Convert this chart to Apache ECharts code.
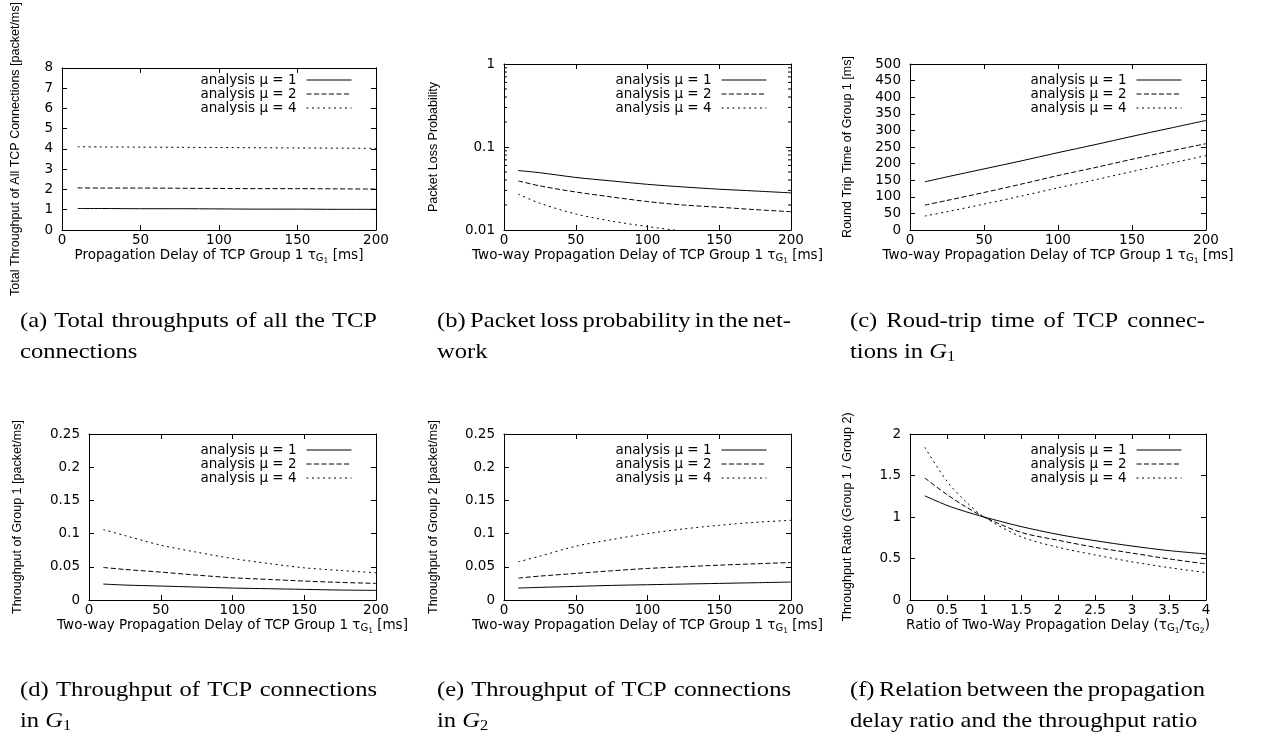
<!DOCTYPE html>
<html>
<head>
<meta charset="utf-8">
<script src="https://cdn.jsdelivr.net/npm/echarts@6/dist/echarts.min.js"></script>
<style>
html,body{margin:0;padding:0;background:#fff;}
#chart{width:1271px;height:738px;}
</style>
</head>
<body>
<div id="chart"></div>
<script>
// ---------------- data ----------------
const seriesNames = ['analysis μ = 1', 'analysis μ = 2', 'analysis μ = 4'];
const xDelay = [10, 25, 50, 75, 100, 125, 150, 175, 200];
const xRatio = [0.2, 0.5, 0.75, 1, 1.5, 2, 2.5, 3, 3.5, 4];

// (a) total throughput [packet/ms]
const totalMu1 = [1.06, 1.06, 1.05, 1.05, 1.04, 1.03, 1.03, 1.02, 1.02];
const totalMu2 = [2.08, 2.07, 2.07, 2.06, 2.05, 2.04, 2.04, 2.03, 2.02];
const totalMu4 = [4.11, 4.10, 4.09, 4.08, 4.07, 4.06, 4.05, 4.04, 4.03];
// (b) packet loss probability
const lossMu1 = [0.052, 0.049, 0.043, 0.039, 0.0355, 0.033, 0.031, 0.0295, 0.028];
const lossMu2 = [0.039, 0.034, 0.0287, 0.025, 0.022, 0.020, 0.0188, 0.0176, 0.0166];
const lossMu4 = [0.027, 0.021, 0.0156, 0.0128, 0.011, 0.0097, 0.0087, 0.0079, 0.0072];
const lossMinorTicks = [0.02, 0.03, 0.04, 0.05, 0.06, 0.07, 0.08, 0.09, 0.2, 0.3, 0.4, 0.5, 0.6, 0.7, 0.8, 0.9];
// (c) round trip time of group 1 [ms]
const rttMu1 = [145, 160, 184, 208, 233, 257, 282, 306, 330];
const rttMu2 = [75, 89, 113, 138, 164, 188, 213, 237, 260];
const rttMu4 = [42, 55, 78, 102, 127, 151, 176, 200, 224];
// (d) throughput of group 1
const thr1Mu1 = [0.024, 0.0225, 0.021, 0.0195, 0.018, 0.017, 0.016, 0.015, 0.0145];
const thr1Mu2 = [0.049, 0.046, 0.042, 0.0375, 0.0335, 0.031, 0.0285, 0.0265, 0.025];
const thr1Mu4 = [0.106, 0.097, 0.0826, 0.072, 0.0625, 0.055, 0.0485, 0.0445, 0.041];
// (e) throughput of group 2
const thr2Mu1 = [0.018, 0.019, 0.0205, 0.022, 0.023, 0.024, 0.025, 0.026, 0.027];
const thr2Mu2 = [0.033, 0.036, 0.040, 0.044, 0.0475, 0.050, 0.0525, 0.0545, 0.0565];
const thr2Mu4 = [0.0575, 0.066, 0.081, 0.091, 0.100, 0.107, 0.1125, 0.117, 0.120];
// (f) throughput ratio
const ratioMu1 = [1.255, 1.14, 1.065, 1.0, 0.885, 0.79, 0.715, 0.65, 0.595, 0.555];
const ratioMu2 = [1.47, 1.27, 1.125, 1.0, 0.815, 0.72, 0.635, 0.565, 0.495, 0.435];
const ratioMu4 = [1.84, 1.43, 1.19, 1.0, 0.763, 0.635, 0.543, 0.46, 0.39, 0.33];

const captionLine1 = [
  '(a) Total throughputs of all the TCP',
  '(b) Packet loss probability in the net-',
  '(c) Roud-trip time of TCP connec-',
  '(d) Throughput of TCP connections',
  '(e) Throughput of TCP connections',
  '(f) Relation between the propagation'
];
const captionLine2 = [
  'connections',
  'work',
  'tions in {i|G}{s|1}',
  'in {i|G}{s|1}',
  'in {i|G}{s|2}',
  'delay ratio and the throughput ratio'
];

const tauG1 = '{t|τ}{g|G}{n|1}';
const tauG2 = '{t|τ}{g|G}{n|2}';
const xNames = [
  'Propagation Delay of TCP Group 1 ' + tauG1 + ' [ms]',
  'Two-way Propagation Delay of TCP Group 1 ' + tauG1 + ' [ms]',
  'Two-way Propagation Delay of TCP Group 1 ' + tauG1 + ' [ms]',
  'Two-way Propagation Delay of TCP Group 1 ' + tauG1 + ' [ms]',
  'Two-way Propagation Delay of TCP Group 1 ' + tauG1 + ' [ms]',
  'Ratio of Two-Way Propagation Delay (' + tauG1 + '/' + tauG2 + ')'
];
const yNames = [
  'Total Throughput of All TCP Connections [packet/ms]',
  'Packet Loss Probability',
  'Round Trip Time of Group 1 [ms]',
  'Throughput of Group 1 [packet/ms]',
  'Throughput of Group 2 [packet/ms]',
  'Throughput Ratio (Group 1 / Group 2)'
];

const panelData = [
  {x: xDelay, ys: [totalMu1, totalMu2, totalMu4]},
  {x: xDelay, ys: [lossMu1, lossMu2, lossMu4]},
  {x: xDelay, ys: [rttMu1, rttMu2, rttMu4]},
  {x: xDelay, ys: [thr1Mu1, thr1Mu2, thr1Mu4]},
  {x: xDelay, ys: [thr2Mu1, thr2Mu2, thr2Mu4]},
  {x: xRatio, ys: [ratioMu1, ratioMu2, ratioMu4]}
];

// ---------------- layout / style ----------------
const W = 1271;
const boxes = [
  {left: 62, top: 64, width: 314, height: 166},
  {left: 504, top: 64, width: 287, height: 166},
  {left: 910, top: 64, width: 296, height: 166},
  {left: 89, top: 434, width: 287, height: 166},
  {left: 504, top: 434, width: 287, height: 166},
  {left: 910, top: 434, width: 296, height: 166}
];
const xScales = [
  {min: 0, max: 200, interval: 50}, {min: 0, max: 200, interval: 50}, {min: 0, max: 200, interval: 50},
  {min: 0, max: 200, interval: 50}, {min: 0, max: 200, interval: 50}, {min: 0, max: 4, interval: 0.5}
];
const yScales = [
  {type: 'value', min: 0, max: 8, interval: 1},
  {type: 'log', min: 0.01, max: 1, logBase: 10},
  {type: 'value', min: 0, max: 500, interval: 50},
  {type: 'value', min: 0, max: 0.25, interval: 0.05},
  {type: 'value', min: 0, max: 0.25, interval: 0.05},
  {type: 'value', min: 0, max: 2, interval: 0.5}
];
const yNameGaps = [40, 64, 56, 65, 64, 56];

const sansH = 'DejaVu Sans';
const sansV = 'Liberation Sans';
const fsH = 13.5;
const dashTypes = ['solid', [5, 2.5], [2, 3.5]];

const subRich = {
  t: {fontFamily: sansH, fontSize: fsH, color: '#000'},
  g: {fontFamily: sansH, fontSize: 10, color: '#000', padding: [7, 0, 0, 0]},
  n: {fontFamily: sansH, fontSize: 7.5, color: '#000', padding: [12, 0, 0, 0]}
};

const axisLine = {show: true, onZero: false, lineStyle: {color: '#000', width: 1}};
const axisTick = {show: true, inside: true, length: 5, lineStyle: {color: '#000', width: 1}};

const grid = [], xAxis = [], yAxis = [], series = [], legend = [];
boxes.forEach((b, p) => {
  grid.push({left: b.left, top: b.top, width: b.width, height: b.height, show: false, containLabel: false});
  const xs = xScales[p], ys = yScales[p];
  xAxis.push({
    type: 'value', gridIndex: p, position: 'bottom', min: xs.min, max: xs.max, interval: xs.interval,
    axisLine, axisTick, splitLine: {show: false},
    axisLabel: {color: '#000', fontFamily: sansH, fontSize: fsH, margin: 3},
    name: xNames[p], nameLocation: 'middle', nameGap: 15,
    nameTextStyle: {color: '#000', fontFamily: sansH, fontSize: fsH, rich: subRich}
  });
  xAxis.push({
    type: 'value', gridIndex: p, position: 'top', min: xs.min, max: xs.max, interval: xs.interval,
    axisLine, axisTick, splitLine: {show: false}, axisLabel: {show: false}
  });
  const yBase = {type: ys.type, gridIndex: p, min: ys.min, max: ys.max};
  if (ys.interval !== undefined) yBase.interval = ys.interval;
  if (ys.logBase !== undefined) yBase.logBase = ys.logBase;
  yAxis.push(Object.assign({}, yBase, {
    position: 'left', axisLine, axisTick, splitLine: {show: false},
    axisLabel: {color: '#000', fontFamily: sansH, fontSize: fsH, margin: 9},
    name: yNames[p], nameLocation: 'middle', nameRotate: 90, nameGap: yNameGaps[p],
    nameTextStyle: {color: '#000', fontFamily: sansV, fontSize: 12.5}
  }));
  yAxis.push(Object.assign({}, yBase, {
    position: 'right', axisLine, axisTick, splitLine: {show: false}, axisLabel: {show: false}
  }));
  const d = panelData[p];
  d.ys.forEach((vals, k) => {
    series.push({
      type: 'line', name: seriesNames[k], xAxisIndex: 2 * p, yAxisIndex: 2 * p,
      data: d.x.map((x, i) => [x, vals[i]]),
      smooth: 0.3, symbol: 'none', clip: true, silent: true,
      lineStyle: {color: '#000', width: 1, type: dashTypes[k]}
    });
  });
  legend.push({
    data: seriesNames.map((n, k) => ({name: n, lineStyle: {type: dashTypes[k], width: 1, color: '#000'}})),
    orient: 'vertical', align: 'right',
    right: W - (b.left + b.width - 19), top: b.top + 4,
    itemWidth: 45, itemHeight: 12, itemGap: 0, selectedMode: false,
    itemStyle: {opacity: 0},
    textStyle: {color: '#000', fontFamily: sansH, fontSize: fsH, lineHeight: 12, padding: [0, 5, 0, 0]}
  });
});

// minor ticks of the logarithmic axis in (b)
series.push({
  type: 'custom', name: 'minor ticks', xAxisIndex: 2, yAxisIndex: 2, silent: true,
  data: lossMinorTicks.map(v => [0, v]),
  renderItem: function (params, api) {
    const pt = api.coord([0, api.value(1)]);
    const cs = params.coordSys;
    return {
      type: 'group',
      children: [
        {type: 'line', shape: {x1: cs.x, y1: pt[1], x2: cs.x + 3, y2: pt[1]}, style: {stroke: '#000', lineWidth: 1}},
        {type: 'line', shape: {x1: cs.x + cs.width - 3, y1: pt[1], x2: cs.x + cs.width, y2: pt[1]}, style: {stroke: '#000', lineWidth: 1}}
      ]
    };
  }
});

// ---------------- captions ----------------
const capFamily = 'Liberation Serif';
const capSize = 21;
const capScale = 1.17;
const capCols = [{x: 20, w: 357}, {x: 437, w: 354}, {x: 850, w: 355}];
const capRows = [[321.5, 352.5], [690.5, 721.5]];
const mctx = document.createElement('canvas').getContext('2d');
mctx.font = capSize + 'px "' + capFamily + '"';
const graphic = [];
captionLine1.forEach((line, i) => {
  const col = capCols[i % 3], rowY = capRows[Math.floor(i / 3)];
  const words = line.split(' ');
  const ws = words.map(w => mctx.measureText(w).width * capScale);
  const total = ws.reduce((a, c) => a + c, 0);
  const gap = (col.w - total) / (words.length - 1);
  let cx = col.x;
  words.forEach((w, j) => {
    graphic.push({
      type: 'text', x: cx, y: rowY[0], scaleX: capScale, silent: true,
      style: {text: w, fontFamily: capFamily, fontSize: capSize, fill: '#000', align: 'left', verticalAlign: 'middle'}
    });
    cx += ws[j] + gap;
  });
  graphic.push({
    type: 'text', x: col.x, y: rowY[1], scaleX: capScale, silent: true,
    style: {
      text: captionLine2[i], fontFamily: capFamily, fontSize: capSize, fill: '#000', align: 'left', verticalAlign: 'middle',
      rich: {
        i: {fontFamily: capFamily, fontSize: capSize, fontStyle: 'italic', fill: '#000'},
        s: {fontFamily: capFamily, fontSize: 14, fill: '#000', padding: [9, 0, 0, 0]}
      }
    }
  });
});

const chart = echarts.init(document.getElementById('chart'));
chart.setOption({
  animation: false,
  backgroundColor: '#fff',
  grid, xAxis, yAxis, series, legend, graphic
});
</script>
</body>
</html>
